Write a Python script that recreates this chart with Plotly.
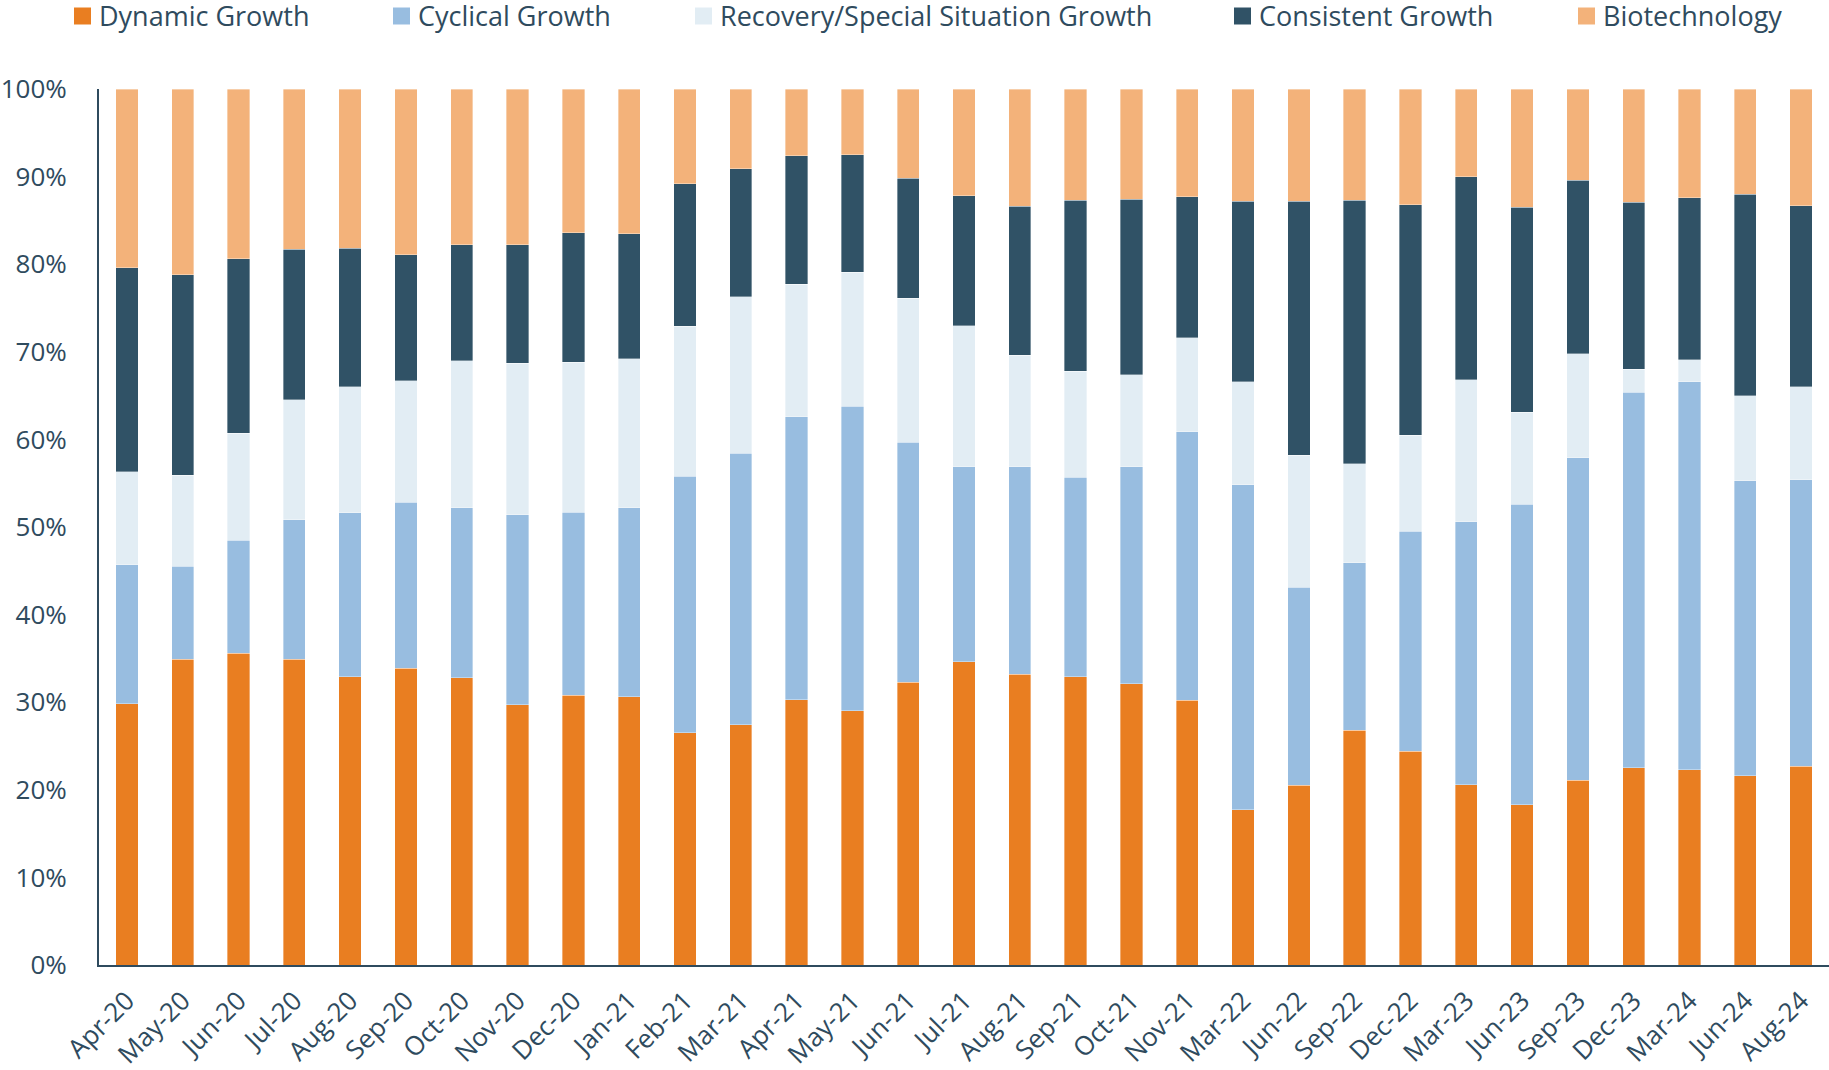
import plotly.graph_objects as go

# Portfolio composition by growth category, share of total (%)
months = ["Apr-20", "May-20", "Jun-20", "Jul-20", "Aug-20", "Sep-20", "Oct-20", "Nov-20",
          "Dec-20", "Jan-21", "Feb-21", "Mar-21", "Apr-21", "May-21", "Jun-21", "Jul-21",
          "Aug-21", "Sep-21", "Oct-21", "Nov-21", "Mar-22", "Jun-22", "Sep-22", "Dec-22",
          "Mar-23", "Jun-23", "Sep-23", "Dec-23", "Mar-24", "Jun-24", "Aug-24"]

dynamic_growth = [29.8, 34.9, 35.6, 34.9, 32.9, 33.9, 32.8, 29.7, 30.8, 30.6, 26.5, 27.4,
                  30.3, 29.0, 32.3, 34.6, 33.2, 32.9, 32.1, 30.2, 17.7, 20.5, 26.8, 24.4,
                  20.6, 18.3, 21.1, 22.5, 22.3, 21.6, 22.7]
cyclical_growth = [15.9, 10.6, 12.9, 15.9, 18.7, 18.9, 19.4, 21.7, 20.9, 21.6, 29.3, 31.0,
                   32.3, 34.8, 27.4, 22.3, 23.7, 22.8, 24.8, 30.7, 37.1, 22.6, 19.1, 25.1,
                   30.0, 34.3, 36.8, 42.9, 44.3, 33.7, 32.7]
recovery_growth = [10.6, 10.4, 12.2, 13.7, 14.4, 13.9, 16.8, 17.3, 17.1, 17.0, 17.1, 17.9,
                   15.1, 15.3, 16.4, 16.1, 12.7, 12.1, 10.5, 10.7, 11.8, 15.1, 11.3, 11.0,
                   16.2, 10.5, 11.9, 2.6, 2.5, 9.7, 10.6]
consistent_growth = [23.3, 22.9, 19.9, 17.2, 15.8, 14.4, 13.2, 13.5, 14.8, 14.3, 16.3, 14.6,
                     14.7, 13.4, 13.7, 14.8, 17.0, 19.5, 20.0, 16.1, 20.6, 29.0, 30.1, 26.3,
                     23.2, 23.4, 19.8, 19.1, 18.5, 23.0, 20.7]
biotechnology = [20.4, 21.2, 19.4, 18.3, 18.2, 18.9, 17.8, 17.8, 16.4, 16.5, 10.8, 9.1,
                 7.6, 7.5, 10.2, 12.2, 13.4, 12.7, 12.6, 12.3, 12.8, 12.8, 12.7, 13.2,
                 10.0, 13.5, 10.4, 12.9, 12.4, 12.0, 13.3]

y_ticks = [0, 10, 20, 30, 40, 50, 60, 70, 80, 90, 100]
y_tick_labels = [f"{v}%" for v in y_ticks]

series = [
    ("Dynamic Growth", dynamic_growth, "#E97E21"),
    ("Cyclical Growth", cyclical_growth, "#98BDE0"),
    ("Recovery/Special Situation Growth", recovery_growth, "#E2EDF4"),
    ("Consistent Growth", consistent_growth, "#305266"),
    ("Biotechnology", biotechnology, "#F3B27A"),
]

TEXT = "#2F4B5E"
FONT = "Open Sans"
W, H = 1829, 1070
ML, MR, MT, MB = 99, 0, 89, 105
PW, PH = W - ML - MR, H - MT - MB

fig = go.Figure()
for name, vals, color in series:
    fig.add_trace(go.Bar(
        x=months, y=vals, name=name,
        marker=dict(color=color, line=dict(color="rgba(255,255,255,0.6)", width=0.6)),
        showlegend=False,
    ))

# Legend row drawn as swatches + labels above the plot
legend_text_x = [97, 416, 718, 1257, 1601]
legend_y = 16
swatch = 17


def px_to_paper_x(px):
    return (px - ML) / PW


def px_to_paper_y(py):
    return (H - MB - py) / PH


shapes = []
annotations = []
for (name, _, color), tx in zip(series, legend_text_x):
    sx = tx - 23
    shapes.append(dict(
        type="rect", xref="paper", yref="paper",
        x0=px_to_paper_x(sx), x1=px_to_paper_x(sx + swatch),
        y0=px_to_paper_y(legend_y + swatch / 2), y1=px_to_paper_y(legend_y - swatch / 2),
        fillcolor=color, line=dict(width=0),
    ))
    annotations.append(dict(
        text=name, xref="paper", yref="paper",
        x=px_to_paper_x(tx), y=px_to_paper_y(legend_y - 1),
        xanchor="left", yanchor="middle", showarrow=False,
        font=dict(family=FONT, size=27, color=TEXT),
    ))

fig.update_layout(
    width=W, height=H,
    barmode="stack", bargap=0.6,
    plot_bgcolor="white", paper_bgcolor="white",
    margin=dict(l=ML, r=MR, t=MT, b=MB, pad=0),
    font=dict(family=FONT, color=TEXT, size=26),
    shapes=shapes, annotations=annotations,
    xaxis=dict(
        type="category", range=[-0.5, 30.5],
        showline=True, linecolor=TEXT, linewidth=2,
        showgrid=False, ticks="", tickangle=-45,
        ticklabelstandoff=8,
        tickfont=dict(family=FONT, size=26, color=TEXT),
    ),
    yaxis=dict(
        range=[0, 100], tickvals=y_ticks, ticktext=y_tick_labels,
        showline=True, linecolor=TEXT, linewidth=2,
        showgrid=False, zeroline=False, ticks="",
        ticklabelstandoff=25,
        tickfont=dict(family=FONT, size=26, color=TEXT),
    ),
)

fig.write_html("out.html")
